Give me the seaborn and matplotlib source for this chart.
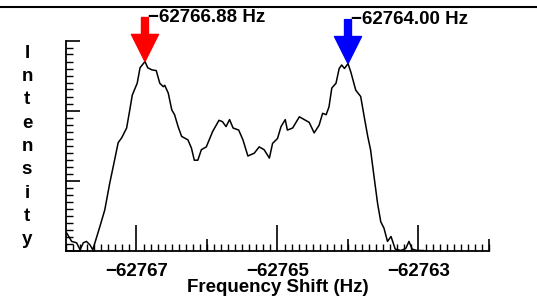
import matplotlib
matplotlib.use("Agg")
import matplotlib.pyplot as plt
from matplotlib.lines import Line2D
from matplotlib.ticker import MultipleLocator
import seaborn as sns
import pandas as pd

# spectrum
freq_hz = [
    -62767.99, -62767.92, -62767.85, -62767.80, -62767.755, -62767.71, -62767.66,
    -62767.62, -62767.59, -62767.52, -62767.45, -62767.38, -62767.33, -62767.26,
    -62767.21, -62767.14, -62767.095, -62767.06, -62766.99, -62766.95, -62766.88,
    -62766.84, -62766.78, -62766.72, -62766.67, -62766.62, -62766.60, -62766.55,
    -62766.50, -62766.46, -62766.41, -62766.36, -62766.27, -62766.22, -62766.18,
    -62766.13, -62766.08, -62766.01, -62765.92, -62765.83, -62765.78, -62765.73,
    -62765.68, -62765.63, -62765.55, -62765.49, -62765.42, -62765.33, -62765.26,
    -62765.19, -62765.115, -62765.07, -62765.00, -62764.95, -62764.89, -62764.86,
    -62764.785, -62764.69, -62764.55, -62764.48, -62764.41, -62764.36, -62764.31,
    -62764.27, -62764.23, -62764.17, -62764.125, -62764.09, -62764.05, -62764.00,
    -62763.96, -62763.89, -62763.82, -62763.77, -62763.72, -62763.68, -62763.63,
    -62763.58, -62763.535, -62763.49, -62763.44, -62763.39, -62763.33, -62763.25,
    -62763.18, -62763.135, -62763.09, -62763.02, -62762.92,
]
intensity = [
    0.25, 0.13, 0.11, 0.01, 0.11, 0.13, 0.08,
    0.01, 0.11, 0.34, 0.58, 0.96, 1.20, 1.54,
    1.61, 1.75, 2.01, 2.22, 2.39, 2.61, 2.70,
    2.61, 2.58, 2.57, 2.39, 2.34, 2.36, 2.25,
    2.01, 1.94, 1.77, 1.63, 1.58, 1.46, 1.29,
    1.29, 1.44, 1.48, 1.70, 1.86, 1.84, 1.77,
    1.87, 1.75, 1.72, 1.58, 1.35, 1.39, 1.48,
    1.44, 1.32, 1.53, 1.60, 1.77, 1.87, 1.72,
    1.75, 1.91, 1.83, 1.68, 1.79, 1.96, 1.94,
    2.05, 2.32, 2.39, 2.60, 2.65, 2.60, 2.67,
    2.55, 2.29, 2.20, 1.91, 1.63, 1.44, 1.05,
    0.67, 0.41, 0.32, 0.13, 0.20, 0.02, 0.0,
    0.03, 0.13, 0.02, 0.0, 0.0,
]

peak_hz = [-62766.88, -62764.00]
peak_intensity = [2.70, 2.67]
peak_colors = ["#ff0000", "#0000ff"]

x_label = "Frequency Shift (Hz)"
y_label = "Intensity"

sns.set_style("ticks")
plt.rcParams["font.family"] = ["Liberation Sans", "DejaVu Sans"]
plt.rcParams["font.weight"] = "bold"
plt.rcParams["text.color"] = "black"
plt.rcParams["xtick.color"] = "black"
plt.rcParams["ytick.color"] = "black"
plt.rcParams["axes.labelcolor"] = "black"

df = pd.DataFrame({"freq": freq_hz, "intensity": intensity})

fig = plt.figure(figsize=(5.37, 3.01), dpi=100)
ax = fig.add_axes([66 / 537, 50.5 / 301, 423 / 537, 210 / 301])

sns.lineplot(data=df, x="freq", y="intensity", ax=ax, color="black",
             lw=1.1, estimator=None, sort=False)

ax.set_xlim(-62768, -62762)
ax.set_ylim(0, 3)
sns.despine(ax=ax)
for side in ("left", "bottom"):
    ax.spines[side].set_linewidth(1.3)
    ax.spines[side].set_color("black")

# x ticks: long at odd Hz, medium at even Hz, minor every 0.1 Hz
ax.xaxis.set_major_locator(MultipleLocator(2, offset=1))
ax.xaxis.set_minor_locator(MultipleLocator(0.1))
ax.tick_params(axis="x", which="major", direction="in", length=19, width=1.2,
               color="black", labelsize=13.5, labelcolor="black", pad=9)
ax.tick_params(axis="x", which="minor", direction="in", length=5, width=1.0,
               color="black")
ax.xaxis.set_major_formatter(plt.FuncFormatter(lambda v, p: f"\u2212{abs(v):.0f}"))
ax.vlines([-62766, -62764, -62762], 0, 12 / 70, color="black", lw=1.2, clip_on=False)

ax.yaxis.set_major_locator(MultipleLocator(1))
ax.yaxis.set_minor_locator(MultipleLocator(0.1))
ax.tick_params(axis="y", which="major", direction="in", length=10, width=1.2,
               color="black", labelleft=False)
ax.tick_params(axis="y", which="minor", direction="in", length=5, width=1.0,
               color="black")

ax.set_xlabel(x_label, fontsize=13.5, fontweight="bold", color="black", labelpad=-1)
ax.set_ylabel("")
for txt in ax.get_xticklabels():
    txt.set_fontweight("bold")

# stacked y label
for i, ch in enumerate(y_label):
    fig.text(27 / 537, 1 - (57.7 + i * 23.3) / 301, ch, ha="center",
             va="baseline", fontsize=13.5, fontweight="bold", color="black")

# peak arrows and labels
for px, py, col in zip(peak_hz, peak_intensity, peak_colors):
    ax.annotate("", xy=(px, py), xytext=(0, 44), textcoords="offset pixels",
                arrowprops=dict(arrowstyle="simple,head_length=1.95,head_width=1.95,tail_width=0.5",
                                color=col, shrinkA=0, shrinkB=0, mutation_scale=10),
                annotation_clip=False)
    ax.annotate(f"\u2212{abs(px):.2f} Hz", xy=(px, py), xytext=(3, 44),
                textcoords="offset pixels", ha="left", va="center",
                fontsize=13.5, fontweight="bold", color="black",
                annotation_clip=False)

fig.add_artist(Line2D([0, 1], [1 - 7 / 301, 1 - 7 / 301], transform=fig.transFigure,
                      color="black", lw=1.5))

fig.savefig("out.png", dpi=100)
